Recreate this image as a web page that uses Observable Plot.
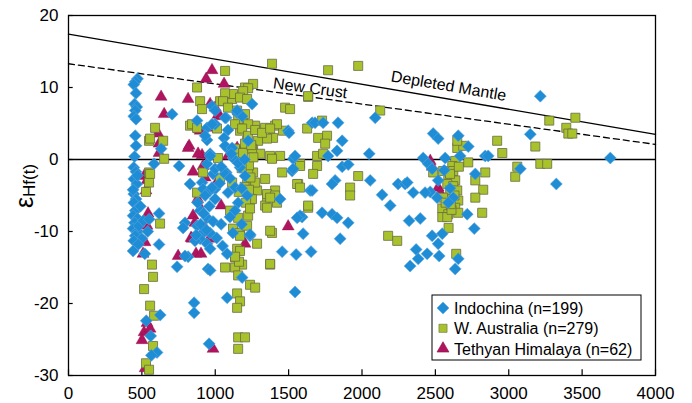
<!DOCTYPE html>
<html><head><meta charset="utf-8">
<script src="https://cdn.jsdelivr.net/npm/d3@7"></script>
<script src="https://cdn.jsdelivr.net/npm/@observablehq/plot@0.6"></script>
<style>
body{margin:0;background:#fff;}
#chart{position:relative;width:692px;height:403px;}
</style></head><body><div id="chart"></div>
<script>
// [age (Ma), εHf(t)]
const indochina = [
[470,11.2],[455,10.8],[445,10.4],[460,9.2],[450,7.7],[465,7.3],[455,6.8],[445,6.0],[460,5.6],[455,3.3],[460,1.9],[450,0.4],[445,-1.1],[460,-1.7],[445,-2.7],[465,-3.4],[445,-4.8],[460,-5.5],[445,-6.0],[470,-6.8],[455,-7.1],[440,-7.8],[470,-8.2],[450,-8.8],[440,-9.6],[470,-10.0],[455,-10.6],[500,-11.0],[445,-11.3],[475,-11.8],[440,-12.7],[520,-13.1],[480,-9.2],[510,-8.5],[490,-6.5],[440,-4.2],[470,-2.2],
[617,-7.5],[617,-11.8],[583,-0.6],[631,1.5],[706,6.3],[754,-0.9],[828,-3.4],[625,-21.6],[530,-22.4],[560,-24.5],[603,-26.8],[565,-27.2],[540,-10.0],[550,-8.3],
[876,5.4],[978,7.4],[944,4.4],[999,4.9],[944,2.7],[1074,5.8],[1087,4.1],[1060,3.0],[1149,6.5],[1183,6.0],[1087,1.5],[965,0.8],[944,-0.6],[985,-2.0],[910,-3.2],[1074,-1.8],[1121,0.2],[1169,-1.1],[1224,2.6],[1251,7.7],[1135,-3.9],[999,-4.1],[917,-4.1],[965,-4.3],[999,-5.5],[897,-7.1],[944,-8.1],[794,-8.8],[781,-9.5],[876,-9.2],[917,-10.2],[965,-10.2],[897,-11.0],[862,-11.3],[944,-11.7],[965,-12.4],[815,-13.5],[740,-14.9],[951,-15.2],[856,-19.9],[856,-21.3],[958,-25.6],[794,-13.4],[1081,-13.1],[1081,-19.2],
[999,6.8],[1149,6.8],[1067,5.8],[978,4.9],[931,3.3],[1067,1.9],[1115,1.6],[965,0.5],[1156,-0.5],[999,-1.3],[1067,-2.0],[1203,-2.3],[978,-3.9],[1217,-5.0],[1087,-4.6],[1156,-6.0],[931,-5.0],[1497,4.0],[1531,0.1],[1524,-1.6],[1442,-5.5],[1660,5.1],[1647,-4.3],
[1135,-7.1],[1237,-10.6],[965,-15.4],[1183,-16.4],[1592,-8.0],[1599,-10.3],[1456,-12.8],[1551,-13.2],[1653,-12.8],[1544,-18.4],
[880,-6.0],[920,-7.5],[960,-6.5],[900,-9.0],[940,-9.8],[985,-8.6],[870,-10.5],[1010,-10.9],[1040,-9.0],[1050,-12.0],[1100,-8.0],[1120,-10.2],[1180,-9.0],[1040,-1.0],[1100,-2.6],[1180,-4.0],[1030,-3.3],[1110,0.8],[1200,0.0],
[2090,5.8],[1680,5.1],[1735,5.1],[1837,5.1],[1503,3.7],[1865,2.6],[1830,1.2],[1769,0.5],[2049,0.8],[1531,-1.3],[1865,-1.0],[1906,-0.7],[1817,-2.9],[1796,-3.4],[2056,-2.9],[1660,-4.3],[2137,-4.9],[2192,-6.4],[1728,-7.4],[1796,-7.6],[1578,-7.8],[1830,-8.1],[1906,-8.8],[1851,-11.0],[1544,0.5],[1558,-8.1],[1237,-10.4],
[2246,-3.4],[2294,-3.4],[2349,-4.6],[2321,-8.5],[2397,-8.2],[2547,-10.3],[2485,3.6],[2519,2.9],[2656,3.3],[2724,1.8],[2417,0.2],[2567,0.2],[2669,0.5],[2840,0.5],[2860,0.5],[2451,-0.6],[2478,-1.3],[2772,-2.0],[3079,-1.3],[3147,3.5],[2308,-3.2],[2465,-4.5],[2519,-2.9],[2512,-5.3],[2622,-5.3],[2588,-6.0],[2717,-7.6],[2765,-9.6],[2519,-11.7],[2369,-12.5],[2444,-13.1],[2526,-13.4],[2328,-14.8],[2383,-13.8],[2635,-15.2],[2656,-13.8],[2478,-10.6],[2430,-4.6],[3215,8.8],[3692,0.2],[3324,-3.4],[2560,-1.5],[2600,-4.0]
];
const wAustralia = [
[590,4.4],[549,2.6],[645,2.6],[652,0.1],[549,-1.8],[549,-3.2],[556,-2.0],[569,-14.6],[576,-16.3],[515,-18.0],[556,-20.3],[583,-21.7],[576,-25.9],[528,-28.3],[549,-29.2],[624,-8.9],[556,2.9],[528,-4.5],
[1067,12.3],[876,10.0],[828,4.7],[1033,8.1],[1115,8.4],[1121,9.1],[1203,10.0],[1258,10.5],[897,8.1],[910,7.0],[842,4.9],[876,4.4],[1012,4.3],[1190,5.4],[1272,4.7],[1340,4.4],[1394,3.0],[1169,4.0],[1217,2.6],[1258,1.6],[1306,0.8],[1387,0.2],[1019,0.2],[917,-1.8],[1033,-2.5],[1258,-1.8],[1217,-3.4],[1115,-3.2],[1285,-4.3],[1353,-5.3],[876,-4.6],[1476,7.2],[1510,7.0],[1387,13.3],
[1224,9.9],[1190,9.5],[1067,9.2],[1169,8.6],[1053,8.1],[1217,8.4],[1087,7.2],[1149,6.8],[1203,6.3],[1156,5.6],[1224,4.9],[1135,4.9],[1183,4.3],[1408,4.7],[1462,4.0],[1224,3.3],[1292,2.6],[1353,2.9],[1203,2.2],[1251,1.5],[1374,0.5],[1442,0.5],[1578,-0.6],[1456,-1.8],[1340,-2.7],[1272,-3.2],[1408,-4.3],[1565,-3.4],[1633,8.7],[1353,-4.8],[1340,-6.4],[1421,-6.0],[1224,-1.6],[1190,-0.5],[1169,0.5],[1135,1.5],[1190,0.9],[1272,4.1],[1319,3.7],
[1230,-0.8],[1240,-2.5],[1200,-3.8],[1250,-5.5],[1210,-6.0],[1180,-1.2],[1160,-4.5],[1230,-4.2],[1260,0.3],[1245,2.0],
[1101,-7.1],[1156,-8.1],[1224,-7.8],[1237,-6.8],[1353,-6.7],[1121,-9.6],[1169,-10.2],[1217,-9.2],[1387,-10.2],[1285,-11.7],[1149,-12.4],[1135,-13.6],[1183,-14.6],[1067,-15.0],[1135,-15.0],[1374,-14.6],[1156,-16.1],[1237,-17.4],[1272,-17.8],[1149,-18.6],[1169,-19.7],[1149,-20.6],[1156,-24.7],[1203,-24.7],[1156,-26.3],[1169,-10.6],[1633,-6.7],
[1769,12.4],[1974,13.0],[1633,8.8],[2124,6.8],[1421,4.9],[1374,4.3],[1626,4.3],[1728,5.4],[1701,3.0],[1762,3.3],[1749,2.2],[1694,0.5],[1735,0.8],[1387,0.1],[1578,-0.9],[1694,-0.9],[1667,-2.0],[1974,-2.3],[1558,-3.4],[1578,-3.9],[1919,-3.9],[1919,-5.0],[1408,-5.0],[1633,-6.4],[1374,-5.3],[1374,-9.9],[2178,-10.6],[2240,-11.3],[1374,-14.5],[1162,-14.2],[1169,-12.7],[1135,-13.5],
[2649,1.6],[2690,1.9],[2635,-0.2],[2724,-0.4],[2615,-0.9],[2553,-1.6],[2622,-1.6],[2588,-2.3],[2635,-2.9],[2581,-3.4],[2622,-3.7],[2601,-4.3],[2649,-4.3],[2553,-5.3],[2615,-5.5],[2656,-5.7],[2547,-6.8],[2635,-6.7],[2588,-7.6],[2656,-7.4],[2547,-8.0],[2581,-8.0],[2772,-2.9],[2840,-1.8],[2826,-4.2],[2772,-5.3],[2819,-7.4],[2921,2.6],[2956,0.9],[3058,-1.0],[3044,-2.4],[2485,-1.8],[2649,2.6],[3276,5.4],[3454,5.8],[3392,4.4],[3406,3.6],[3433,3.6],[3181,1.8],[3215,-0.6],[3262,-0.6],[2642,-13.1],[2600,-2.0],[2630,-5.0],[2570,-6.0],[2610,-7.0],[2660,-1.0],[2590,-9.5],[2605,-6.2]
];
const tethyan = [
[631,8.7],[652,6.3],[610,3.6],[617,2.2],[617,0.9],[515,-2.3],[535,-2.9],[528,-4.3],[542,-7.5],[535,-9.2],[522,-11.5],[508,-13.1],[535,-22.7],[515,-24.0],[501,-25.1],[522,-29.0],[556,-23.5],
[815,8.4],[822,1.9],[849,-1.7],[938,11.2],[978,12.4],[890,4.2],[910,0.6],[999,7.2],[1060,10.5],[1033,6.0],[747,-13.4],[849,-7.8],[835,-10.9],[869,-13.1],[903,-13.1],[985,-26.3],[1040,-6.4],[965,7.7],[1019,6.2],[815,1.6],[897,4.0],[883,0.8],[1149,1.6],[917,-0.9],[965,4.4],[1087,0.5],[1019,-2.9],[931,-2.5],[1203,-11.7],[1497,-9.3],[842,-11.0],
[880,-5.5],[930,-9.5],[960,-11.0],[900,-6.8],[860,-8.8],
[2465,-0.2],[2478,-1.0],[2519,-3.9],[2533,-4.6]
];
const xTicks = [0,500,1000,1500,2000,2500,3000,3500,4000];
const yTicks = [-30,-20,-10,0,10,20];
const depletedMantle = [[0,17.4],[4000,3.5]];
const newCrust = [[0,13.3],[4000,2.1]];
const curveLabels = [
  {text:"New Crust", x:1647, y:9.9, rotate:7.6},
  {text:"Depleted Mantle", x:2590, y:10.2, rotate:9.7}
];
const legendItems = [
  {label:"Indochina (n=199)", symbol:"diamond2", fill:"#1f8dd6", stroke:"#5aa6da"},
  {label:"W. Australia (n=279)", symbol:"square", fill:"#a8c22c", stroke:"#6b6b45"},
  {label:"Tethyan Himalaya (n=62)", symbol:"triangle2", fill:"#b0145f", stroke:"#8a1048"}
];

const font = "'Liberation Sans', Arial, sans-serif";
const chart = Plot.plot({
  width: 692, height: 403,
  marginLeft: 68, marginRight: 37, marginTop: 15, marginBottom: 28,
  style: {fontFamily: font, fontSize: "17px", background: "white", color: "black"},
  x: {domain: [0,4000], label: null},
  y: {domain: [-30,20], label: null},
  marks: [
    Plot.axisX(xTicks, {tickSize: 0, tickPadding: 11, fontSize: 17, tickFormat: d => String(d)}),
    Plot.axisY(yTicks, {tickSize: 0, tickPadding: 10, fontSize: 17, tickFormat: d => String(d)}),
    Plot.ruleX(xTicks, {x: d => d, y1: -30, y2: -29.2, strokeWidth: 1.2}),
    Plot.ruleY(yTicks, {y: d => d, x1: 0, x2: 32, strokeWidth: 1.2}),
    Plot.ruleY([0], {strokeWidth: 1.3}),
    Plot.line(depletedMantle, {x: d => d[0], y: d => d[1], strokeWidth: 1.3}),
    Plot.line(newCrust, {x: d => d[0], y: d => d[1], strokeWidth: 1.3, strokeDasharray: "6,4"}),
    Plot.text(curveLabels, {x: "x", y: "y", text: "text", rotate: "rotate", fontSize: 16, fill: "black"}),
    Plot.dot(tethyan, {x: d => d[0], y: d => d[1], symbol: "triangle2", r: 5.7, fill: legendItems[2].fill, stroke: legendItems[2].stroke, strokeWidth: 0.4}),
    Plot.dot(wAustralia, {x: d => d[0], y: d => d[1], symbol: "square", r: 5.1, fill: legendItems[1].fill, stroke: legendItems[1].stroke, strokeWidth: 0.8}),
    Plot.dot(indochina, {x: d => d[0], y: d => d[1], symbol: "diamond2", r: 5.4, fill: legendItems[0].fill, stroke: legendItems[0].stroke, strokeWidth: 0.6}),
    Plot.frame({stroke: "black", strokeWidth: 1.3})
  ]
});
document.getElementById("chart").appendChild(chart);

const svg = d3.select(chart);
// y-axis label
const yl = svg.append("text")
  .attr("transform", "translate(33,186) rotate(-90)")
  .attr("text-anchor", "middle")
  .style("font-family", font)
  .attr("fill", "black");
yl.append("tspan").attr("font-size", 25).text("ε");
yl.append("tspan").attr("font-size", 17).attr("dy", 2).text("Hf(t)");

// legend
const lg = svg.append("g").style("font-family", font).attr("text-anchor", "start");
lg.append("rect").attr("x", 432).attr("y", 295).attr("width", 209).attr("height", 65)
  .attr("fill", "white").attr("stroke", "black").attr("stroke-width", 1);
const symMap = {diamond2: d3.symbolDiamond2, square: d3.symbolSquare, triangle2: d3.symbolTriangle2};
const sizes = {diamond2: 5.4, square: 4.6, triangle2: 5.7};
legendItems.forEach((it, i) => {
  const cy = 308 + i * 20.3;
  const r = sizes[it.symbol];
  lg.append("path").attr("d", d3.symbol(symMap[it.symbol], r * r * Math.PI)())
    .attr("transform", `translate(443,${cy})`)
    .attr("fill", it.fill).attr("stroke", it.stroke).attr("stroke-width", 0.6);
  lg.append("text").attr("x", 454).attr("y", cy + 6).attr("font-size", 16)
    .attr("text-anchor", "start").attr("fill", "black").text(it.label);
});
</script></body></html>
